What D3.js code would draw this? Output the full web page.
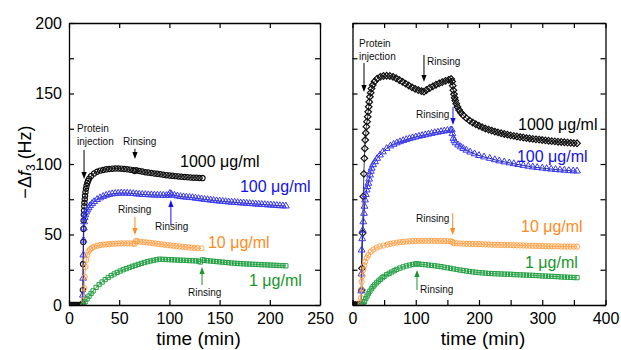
<!DOCTYPE html>
<html>
<head>
<meta charset="utf-8">
<script src="https://cdn.jsdelivr.net/npm/d3@7/dist/d3.min.js"></script>
<style>
  html, body { margin: 0; padding: 0; background: #fff; }
  svg { display: block; }
</style>
</head>
<body>
<svg id="chart" width="621" height="350"></svg>
<script>
// QCM-D adsorption traces: -Δf3 (Hz) versus time (min) for four protein concentrations.
// Each series is a list of [time (min), -Δf3 (Hz)] readings.

// ---- Left panel ----
const leftBlack1000 = [
  [0,0],[1.5,0],[3,0],[4.5,0],[6,0],[7.5,0],[9,0],[10.5,0],[12,0],[13.2,0],
  [13.6,1],[13.8,10.6],[14,29],[14.2,44.7],[14.4,54],[14.6,60],[14.8,64],[15,67],[15.2,70],[15.4,72.5],
  [15.7,75],[16,77.5],[16.4,80],[16.9,82.5],[17.5,84.5],[18.2,86.5],[19,88],[20,89.5],[22,91.5],[25,93.3],
  [28,94.5],[31,95.3],[34,95.8],[37,96.2],[40,96.5],[43,96.7],[46,96.8],[49,96.8],[52,96.7],[55,96.5],
  [58,96.3],[61,96],[64,95.6],[65.5,95],[67,95.5],[70,95],[73,94.6],[76,94.2],[79,93.9],[82,93.6],
  [85,93.3],[88,93],[91,92.7],[94,92.4],[97,92.1],[100,91.8],[103,91.6],[106,91.4],[109,91.2],[112,91],
  [115,90.8],[118,90.6],[121,90.4],[124,90.3],[127,90.2],[130,90.1],[133,90]
];
const leftBlue100 = [
  [13.7,0],[13.9,7],[14.1,19],[14.3,35.5],[14.5,46],[14.8,54.6],[15.1,59],[15.6,62],[16.3,64],[17.2,66],
  [18.2,67.5],[19.5,69],[21,70.5],[23,72],[25,73.3],[28,74.8],[31,76],[34,77],[37,77.8],[40,78.4],
  [43,78.8],[46,79.1],[49,79.3],[52,79.4],[55,79.4],[58,79.3],[61,79.2],[64,79],[67,78.8],[70,78.6],
  [73,78.4],[76,78.3],[79,78.2],[82,78.1],[85,78],[88,77.9],[91,77.9],[94,77.8],[97,77.7],[99,77.8],
  [100.5,79.2],[102,78.5],[105,77.8],[108,77.3],[111,76.9],[114,76.7],[117,76.5],[120,76.3],[123,76.1],[126,75.8],
  [129,75.5],[132,75.2],[135,74.9],[138,74.7],[141,74.4],[144,74.2],[147,73.9],[150,73.7],[153,73.5],[156,73.3],
  [159,73.1],[162,72.9],[165,72.8],[168,72.6],[171,72.4],[174,72.3],[177,72.1],[180,72],[183,71.8],[186,71.6],
  [189,71.5],[192,71.3],[195,71.2],[198,71],[201,70.9],[204,70.7],[207,70.6],[210,70.4],[213,70.3],[216,70.2]
];
const leftOrange10 = [
  [14.3,0],[14.8,3.5],[15.2,12],[15.7,20],[16.4,27],[17.2,32],[18.2,35.5],[19.5,38],[21,39.5],[23,40.5],
  [25,41.3],[28,42],[31,42.5],[34,42.8],[37,43],[40,43.2],[43,43.4],[46,43.5],[49,43.6],[52,43.7],
  [55,43.7],[58,43.7],[61,43.7],[64,43.6],[65.5,43.4],[66.5,45.4],[68,45.2],[71,44.9],[74,44.6],[77,44.4],
  [80,44.2],[83,43.9],[86,43.6],[89,43.3],[92,43],[95,42.8],[98,42.5],[101,42.3],[104,42],[107,41.8],
  [110,41.5],[113,41.3],[116,41.1],[119,40.9],[122,40.7],[125,40.5],[128,40.4],[132,40.2]
];
const leftGreen1 = [
  [14.5,0],[16,2.2],[18,4.3],[20,6.3],[22,8.2],[24,10],[27,12.5],[30,14.5],[33,16.3],[36,18],
  [39,19.5],[42,20.8],[45,22],[48,23.1],[51,24.1],[54,25],[57,25.8],[60,26.6],[63,27.4],[66,28.1],
  [69,28.8],[72,29.5],[75,30.1],[78,30.7],[81,31.2],[84,31.7],[87,32.1],[90,32.5],[93,32.4],[96,32.3],
  [99,32.2],[102,32.1],[105,32],[108,31.9],[111,31.8],[114,31.7],[117,31.6],[120,31.5],[123,31.4],[126,31.3],
  [129,31.1],[131,30.5],[133,32],[135,31.7],[138,31.4],[141,31.2],[144,31],[147,30.8],[150,30.6],[153,30.4],
  [156,30.2],[159,30],[162,29.8],[165,29.6],[168,29.5],[171,29.3],[174,29.2],[177,29.1],[180,29],[183,28.9],
  [186,28.8],[189,28.7],[192,28.6],[195,28.5],[198,28.4],[201,28.3],[204,28.2],[207,28.1],[210,28],[213,27.9],[216,27.8]
];

// ---- Right panel ----
const rightBlack1000 = [
  [0,0],[2.5,0],[5,0],[7.5,0],[10,0],[12.5,0],[13.8,0],
  [14.5,10.6],[15,26],[16,51],[17,77],[18,93],[18.7,104],[19.4,111],[20.1,117],[21,122],
  [22,126.5],[23,130],[24,133.5],[24.8,137],[25.6,140.6],[26.5,144],[27.5,147.7],[28.7,150.5],[30,153.5],[32,156],
  [35,158.5],[39,160.5],[44,161.8],[49,162.4],[54,162.6],[59,162.4],[64,161.8],[69,160.8],[74,159.6],[79,158.3],
  [84,157],[89,155.7],[94,154.4],[99,153.3],[104,152.4],[109,151.7],[113,151.3],[117,152.5],[122,153.9],[127,155.1],
  [132,156.2],[137,157.2],[142,158.1],[147,158.9],[152,159.7],[156,160.3],[157.5,158.5],[158.5,155.5],[159.5,152.3],[160.5,149.5],
  [161.5,147],[162.5,145],[164,142.8],[166,140.5],[168.5,138.3],[171.5,136.3],[175,134.5],[180,132.5],[185,130.8],[190,129.4],
  [195,128.2],[200,127.1],[205,126.1],[210,125.2],[215,124.4],[220,123.7],[225,123],[230,122.4],[235,121.8],[240,121.3],
  [245,120.8],[250,120.3],[255,119.9],[260,119.5],[265,119.1],[270,118.8],[275,118.4],[280,118.1],[285,117.8],[290,117.5],
  [295,117.3],[300,117],[305,116.7],[310,116.5],[315,116.2],[320,116],[325,115.8],[330,115.6],[335,115.4],[340,115.2],
  [345,115],[350,114.8],[355,114.7]
];
const rightBlue100 = [
  [13.5,0],[13.8,10],[14.1,22],[14.5,39],[15.3,47],[16.1,53],[17.1,59],[18.2,65],[19,70],[19.8,74.5],
  [21,78.3],[22.4,81.6],[23.7,84],[25,86.3],[26.3,89.3],[27.7,92.2],[29,94.8],[30.3,97],[32.5,99.5],[35.6,101.6],
  [39,104],[43.5,106.4],[48,108.6],[54,111],[60,112.8],[65,114],[70,115],[75,115.8],[80,116.6],[85,117.3],
  [90,118],[95,118.6],[100,119.2],[105,119.7],[110,120.2],[115,120.7],[120,121.2],[125,121.7],[130,122.2],[135,122.6],
  [140,123],[145,123.4],[150,123.8],[155,124.1],[157,124.2],[158,121.5],[159.5,118.2],[161,116.5],[163,115],[167,113.5],
  [171,112.2],[175,111],[180,109.8],[186,108.5],[193,107.2],[200,106],[208,105],[217,104],[225,103],[232,102.2],
  [240,101.5],[248,100.8],[255,100.2],[262,99.6],[270,99],[278,98.4],[285,97.9],[292,97.5],[300,97.1],[307,96.7],
  [314,96.4],[321,96.1],[328,95.8],[335,95.6],[342,95.3],[349,95.1],[355,95]
];
const rightOrange10 = [
  [12.5,0],[13,2],[13.5,5],[14,11],[14.5,16.5],[15.5,20.5],[17,24.8],[18.5,28],[20,30.7],[22.5,33.5],
  [25,35.5],[29,37.8],[33,39.3],[38,40.6],[43,41.5],[49,42.2],[55,42.9],[60,43.4],[65,43.8],[70,44.2],
  [75,44.5],[80,44.8],[85,45],[90,45.2],[95,45.3],[100,45.4],[105,45.5],[110,45.5],[115,45.5],[120,45.5],
  [125,45.5],[130,45.5],[135,45.4],[140,45.4],[145,45.3],[150,45.3],[155,45.2],[158,44.8],[160,43.8],[165,43.7],
  [170,43.6],[175,43.5],[180,43.4],[185,43.35],[190,43.3],[195,43.25],[200,43.2],[205,43.1],[210,43],[215,42.9],
  [220,42.8],[225,42.75],[230,42.7],[235,42.65],[240,42.6],[245,42.55],[250,42.5],[255,42.4],[260,42.3],[265,42.25],
  [270,42.2],[275,42.1],[280,42.05],[285,42],[290,41.95],[295,41.9],[300,41.8],[305,41.75],[310,41.7],[315,41.65],
  [320,41.6],[325,41.55],[330,41.5],[335,41.5],[340,41.45],[345,41.45],[350,41.4],[355,41.4]
];
const rightGreen1 = [
  [15.5,0],[17,0.5],[19,2.5],[21,4.5],[23,6.3],[25,8],[27.5,9.8],[30,11.5],[32.5,13],[35,14.3],
  [38,15.7],[41,17],[44,18.2],[47,19.3],[50,20.3],[54,21.5],[58,22.5],[62,23.4],[66,24.3],[70,25.2],
  [75,26.2],[80,27],[85,27.7],[90,28.3],[95,28.8],[100,29.1],[102,29.2],[105,29],[110,28.8],[115,28.6],
  [120,28.3],[125,28.1],[130,27.8],[135,27.5],[140,27.2],[145,26.8],[150,26.4],[155,26],[160,25.6],[165,25.2],
  [170,24.8],[175,24.5],[180,24.1],[185,23.8],[190,23.5],[195,23.2],[200,23],[205,22.8],[210,22.6],[215,22.4],
  [220,22.3],[225,22.2],[230,22.1],[235,22],[240,21.9],[245,21.85],[250,21.8],[255,21.6],[260,21.5],[265,21.4],
  [270,21.3],[275,21.2],[280,21.1],[285,21],[290,20.9],[295,20.8],[300,20.6],[305,20.5],[310,20.4],[315,20.3],
  [320,20.2],[325,20.1],[330,19.9],[335,19.8],[340,19.7],[345,19.6],[350,19.5],[355,19.4]
];

// Axis ticks
const yTicks = [0, 25, 50, 75, 100, 125, 150, 175, 200];
const yTickLabels = [0, 50, 100, 150, 200];
const leftTimeTicks = [0, 50, 100, 150, 200, 250];
const rightTimeTicks = [0, 50, 100, 150, 200, 250, 300, 350, 400];
const rightTimeLabels = [0, 100, 200, 300, 400];

const FONT = '"Liberation Sans", Arial, Helvetica, sans-serif';
const COLORS = {
  black:  { mark: '#111111', line: '#444444', text: '#000000', width: 1.2 },
  blue:   { mark: '#3a3aee', line: '#1a1a9a', text: '#1111f0', width: 1 },
  orange: { mark: '#ff9a3a', line: '#ffb06a', text: '#ff8b1c', width: 0.9 },
  green:  { mark: '#24a044', line: '#3aa858', text: '#17962a', width: 1 }
};

// Open marker shapes: Origin-style diamond is a square turned 45°
const diamond = {
  draw(ctx, size) {
    const r = Math.sqrt(size / 2);
    ctx.moveTo(0, -r); ctx.lineTo(r, 0); ctx.lineTo(0, r); ctx.lineTo(-r, 0); ctx.closePath();
  }
};

const svg = d3.select('#chart').style('font-family', FONT);
const yTop = 23, yBottom = 305;

const panels = [
  {
    id: 'left', x0: 69, x1: 320, tmax: 250, xTicks: leftTimeTicks, xLabels: leftTimeTicks, yLabels: true,
    series: [
      { data: leftBlack1000, color: 'black', symbol: d3.symbolCircle, size: 22 },
      { data: leftBlue100, color: 'blue', symbol: d3.symbolTriangle, size: 20 },
      { data: leftOrange10, color: 'orange', symbol: d3.symbolCircle, size: 22 },
      { data: leftGreen1, color: 'green', symbol: d3.symbolSquare, size: 18 }
    ],
    labels: [
      { t: 110.6, v: 97.9, text: '1000 μg/ml', color: 'black' },
      { t: 170.3, v: 80.1, text: '100 μg/ml', color: 'blue' },
      { t: 138.4, v: 40.4, text: '10 μg/ml', color: 'orange' },
      { t: 179.3, v: 13.5, text: '1 μg/ml', color: 'green' }
    ],
    notes: [
      { t: 8, v: 122.7, lines: ['Protein', 'injection'] },
      { t: 53.8, v: 113.5, lines: ['Rinsing'] },
      { t: 85.7, v: 53.2, lines: ['Rinsing'] },
      { t: 48.8, v: 65.2, lines: ['Rinsing'] },
      { t: 118.5, v: 6.4, lines: ['Rinsing'] }
    ],
    arrows: [
      { t: 15, from: 110, to: 89.4, color: 'black' },
      { t: 65.7, from: 110.8, to: 103.5, color: 'black' },
      { t: 101.5, from: 56.7, to: 74.5, color: 'blue' },
      { t: 65.7, from: 62.4, to: 49.6, color: 'orange' },
      { t: 132.5, from: 14.2, to: 27, color: 'green' }
    ]
  },
  {
    id: 'right', x0: 352.5, x1: 605.5, tmax: 400, xTicks: rightTimeTicks, xLabels: rightTimeLabels, yLabels: false,
    series: [
      { data: rightBlack1000, color: 'black', symbol: diamond, size: 22 },
      { data: rightBlue100, color: 'blue', symbol: d3.symbolTriangle, size: 20 },
      { data: rightOrange10, color: 'orange', symbol: d3.symbolCircle, size: 22 },
      { data: rightGreen1, color: 'green', symbol: d3.symbolSquare, size: 18 }
    ],
    labels: [
      { t: 261.7, v: 124.1, text: '1000 μg/ml', color: 'black' },
      { t: 260, v: 101.4, text: '100 μg/ml', color: 'blue' },
      { t: 266.4, v: 51.8, text: '10 μg/ml', color: 'orange' },
      { t: 272.7, v: 26.2, text: '1 μg/ml', color: 'green' }
    ],
    notes: [
      { t: 10.3, v: 183, lines: ['Protein', 'injection'] },
      { t: 117.8, v: 170.2, lines: ['Rinsing'] },
      { t: 100.4, v: 132.6, lines: ['Rinsing'] },
      { t: 100.4, v: 58.9, lines: ['Rinsing'] },
      { t: 106.7, v: 8.5, lines: ['Rinsing'] }
    ],
    arrows: [
      { t: 18.2, from: 171.6, to: 151, color: 'black' },
      { t: 113, from: 177.3, to: 158.2, color: 'black' },
      { t: 158.9, from: 140.4, to: 127.7, color: 'blue' },
      { t: 158.4, from: 65.2, to: 49.6, color: 'orange' },
      { t: 102, from: 10.6, to: 24.8, color: 'green' }
    ]
  }
];

panels.forEach(p => {
  const x = d3.scaleLinear().domain([0, p.tmax]).range([p.x0, p.x1]);
  const y = d3.scaleLinear().domain([0, 200]).range([yBottom, yTop]);
  const g = svg.append('g').attr('class', 'panel-' + p.id);

  g.append('clipPath').attr('id', 'clip-' + p.id)
    .append('rect').attr('x', p.x0).attr('y', yTop).attr('width', p.x1 - p.x0).attr('height', yBottom - yTop);

  // Traces: thin connecting line with dense open markers on top
  const plot = g.append('g').attr('clip-path', `url(#clip-${p.id})`);
  const line = d3.line().x(d => x(d[0])).y(d => y(d[1]));
  p.series.forEach(s => {
    const c = COLORS[s.color];
    plot.append('path').datum(s.data)
      .attr('d', line).attr('fill', 'none')
      .attr('stroke', c.line).attr('stroke-width', 1);
    plot.append('g').selectAll('path').data(s.data).join('path')
      .attr('transform', d => `translate(${x(d[0])},${y(d[1])})`)
      .attr('d', d3.symbol().type(s.symbol).size(s.size))
      .attr('fill', 'none').attr('stroke', c.mark).attr('stroke-width', c.width);
  });

  // Axes with inward ticks on all four sides
  const tickStyle = sel => {
    sel.selectAll('.domain').attr('stroke', '#000').attr('stroke-width', 1.3);
    sel.selectAll('.tick line').attr('stroke', '#000').attr('stroke-width', 1.2);
    sel.selectAll('.tick text').attr('fill', '#000').style('font-size', '16px').style('font-family', FONT);
  };
  g.append('g').attr('transform', `translate(0,${yBottom})`)
    .call(d3.axisBottom(x).tickValues(p.xTicks).tickSize(-5).tickSizeOuter(0).tickPadding(8)
      .tickFormat(d => p.xLabels.includes(d) ? d : ''))
    .call(tickStyle);
  g.append('g').attr('transform', `translate(0,${yTop})`)
    .call(d3.axisTop(x).tickValues(p.xTicks).tickSize(-5).tickSizeOuter(0).tickFormat(''))
    .call(tickStyle);
  g.append('g').attr('transform', `translate(${p.x0},0)`)
    .call(d3.axisLeft(y).tickValues(yTicks).tickSize(-5).tickSizeOuter(0).tickPadding(7)
      .tickFormat(d => p.yLabels && yTickLabels.includes(d) ? d : ''))
    .call(tickStyle);
  g.append('g').attr('transform', `translate(${p.x1},0)`)
    .call(d3.axisRight(y).tickValues(yTicks).tickSize(-5).tickSizeOuter(0).tickFormat(''))
    .call(tickStyle);

  // Axis title
  g.append('text')
    .attr('x', (p.x0 + p.x1) / 2 + 4).attr('y', 345)
    .attr('text-anchor', 'middle').style('font-size', '19px')
    .text('time (min)');

  // Concentration labels
  g.selectAll('text.conc').data(p.labels).join('text').attr('class', 'conc')
    .attr('x', d => x(d.t)).attr('y', d => y(d.v))
    .attr('fill', d => COLORS[d.color].text)
    .style('font-size', '16px')
    .text(d => d.text);

  // Event notes
  p.notes.forEach(n => {
    const t = g.append('text').attr('x', x(n.t)).attr('y', y(n.v))
      .style('font-size', '10px').attr('fill', '#111');
    n.lines.forEach((ln, i) => {
      t.append('tspan').attr('x', x(n.t)).attr('dy', i === 0 ? 0 : 13).text(ln);
    });
  });

  // Event arrows
  p.arrows.forEach(a => {
    const c = COLORS[a.color].text;
    const ax = x(a.t), y0 = y(a.from), y1 = y(a.to);
    const dir = y1 > y0 ? 1 : -1;
    const head = 7, hw = 2.6;
    g.append('line').attr('x1', ax).attr('x2', ax).attr('y1', y0).attr('y2', y1 - dir * head)
      .attr('stroke', c).attr('stroke-width', 1);
    g.append('path')
      .attr('d', `M${ax - hw},${y1 - dir * head}L${ax + hw},${y1 - dir * head}L${ax},${y1}Z`)
      .attr('fill', c);
  });
});

// Shared y-axis title
const ylab = svg.append('text')
  .attr('transform', 'translate(31,162) rotate(-90)')
  .attr('text-anchor', 'middle')
  .style('font-size', '18px');
ylab.append('tspan').text('−Δ');
ylab.append('tspan').style('font-style', 'italic').text('f');
ylab.append('tspan').style('font-size', '12px').attr('dy', 4).text('3');
ylab.append('tspan').attr('dy', -4).text(' (Hz)');
</script>
</body>
</html>
